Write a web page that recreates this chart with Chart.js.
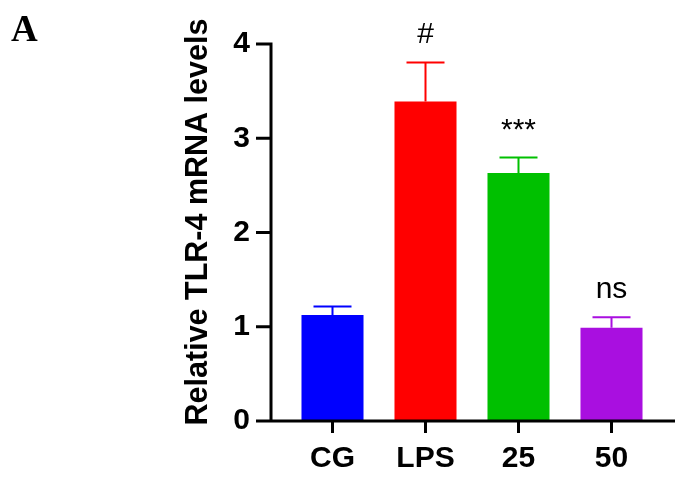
<!DOCTYPE html>
<html>
<head>
<meta charset="utf-8">
<script src="https://cdn.jsdelivr.net/npm/chart.js@4"></script>
<style>
  html, body { margin: 0; padding: 0; background: #ffffff; }
  #wrap { position: relative; width: 686px; height: 481px; }
  canvas { display: block; }
</style>
</head>
<body>
<div id="wrap"><canvas id="c" width="686" height="481"></canvas></div>
<script>
// ---- data ----
const categories = ["CG", "LPS", "25", "50"];
const means = [1.125, 3.39, 2.63, 0.99];
const errors = [0.09, 0.415, 0.165, 0.11];
const annotations = ["", "#", "***", "ns"];
const barColors = ["#0000FF", "#FF0000", "#00C000", "#A90FE0"];
const yTicks = [0, 1, 2, 3, 4];
const yTitle = "Relative TLR-4 mRNA levels";
const panelLabel = "A";

const FONT = "'Liberation Sans', Arial, sans-serif";

const decorPlugin = {
  id: 'decor',
  afterDatasetsDraw(chart) {
    const ctx = chart.ctx;
    const area = chart.chartArea;
    const x = chart.scales.x, y = chart.scales.y;
    const meta = chart.getDatasetMeta(0);
    ctx.save();
    // error bars (upper only) and annotations
    meta.data.forEach((bar, i) => {
      const cx = bar.x;
      const top = y.getPixelForValue(means[i]);
      const et = y.getPixelForValue(means[i] + errors[i]);
      ctx.strokeStyle = barColors[i];
      ctx.lineWidth = 2;
      ctx.beginPath();
      ctx.moveTo(cx, top);
      ctx.lineTo(cx, et);
      ctx.moveTo(cx - 19, et);
      ctx.lineTo(cx + 19, et);
      ctx.stroke();
      if (annotations[i]) {
        ctx.fillStyle = '#000';
        ctx.font = "30px " + FONT;
        ctx.textAlign = 'center';
        ctx.textBaseline = 'alphabetic';
        ctx.fillText(annotations[i], cx, et - 19);
      }
    });
    // axes
    const axX = area.left - 15;
    const y0 = y.getPixelForValue(0);
    ctx.strokeStyle = '#000';
    ctx.lineWidth = 3;
    ctx.lineCap = 'butt';
    ctx.beginPath();
    ctx.moveTo(axX, y.getPixelForValue(yTicks[yTicks.length - 1]) - 1.5);
    ctx.lineTo(axX, y0 + 1.5);
    yTicks.forEach(v => {
      const py = y.getPixelForValue(v);
      ctx.moveTo(axX - 15, py);
      ctx.lineTo(axX, py);
    });
    ctx.moveTo(axX - 15, y0);
    ctx.lineTo(area.right + 17, y0);
    categories.forEach((c, i) => {
      const px = x.getPixelForValue(i);
      ctx.moveTo(px, y0);
      ctx.lineTo(px, y0 + 12);
    });
    ctx.stroke();
    // y axis title
    ctx.save();
    ctx.translate(199, 222);
    ctx.rotate(-Math.PI / 2);
    ctx.fillStyle = '#000';
    ctx.font = "bold 30.5px " + FONT;
    ctx.textAlign = 'center';
    ctx.textBaseline = 'middle';
    ctx.fillText(yTitle, 0, 0);
    ctx.restore();
    // panel label
    ctx.fillStyle = '#000';
    ctx.font = "bold 37px 'Liberation Serif', 'Times New Roman', serif";
    ctx.textAlign = 'left';
    ctx.textBaseline = 'alphabetic';
    ctx.fillText(panelLabel, 11, 41);
    ctx.restore();
  }
};

new Chart(document.getElementById('c'), {
  type: 'bar',
  data: {
    labels: categories,
    datasets: [{
      data: means,
      backgroundColor: barColors,
      borderWidth: 0,
      barPercentage: 0.667,
      categoryPercentage: 1.0
    }]
  },
  options: {
    responsive: false,
    animation: false,
    devicePixelRatio: 1,
    layout: { padding: { left: 0, right: 28, top: 44, bottom: 0 } },
    plugins: { legend: { display: false }, tooltip: { enabled: false } },
    scales: {
      x: {
        offset: true,
        grid: { display: false, drawTicks: false },
        border: { display: false },
        ticks: {
          color: '#000',
          padding: 20,
          font: { family: FONT, size: 30, weight: 'bold' }
        },
        afterFit(scale) { scale.height = 60; scale.paddingLeft = 0; scale.paddingRight = 0; }
      },
      y: {
        min: 0, max: 4,
        grid: { display: false, drawTicks: false },
        border: { display: false },
        ticks: {
          stepSize: 1,
          color: '#000',
          padding: 36,
          font: { family: FONT, size: 30, weight: 'bold' }
        },
        afterFit(scale) { scale.width = 286; scale.paddingTop = 0; scale.paddingBottom = 0; }
      }
    }
  },
  plugins: [decorPlugin]
});
</script>
</body>
</html>
